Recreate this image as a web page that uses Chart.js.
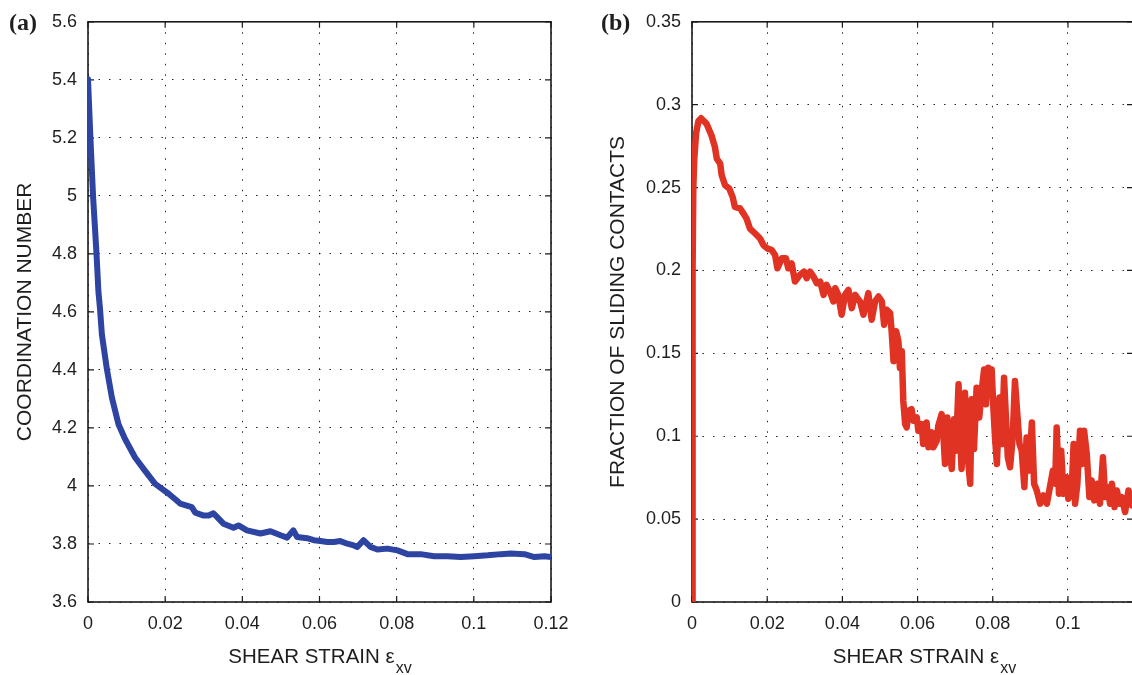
<!DOCTYPE html>
<html><head><meta charset="utf-8">
<script src="https://cdn.jsdelivr.net/npm/chart.js@4.4.1/dist/chart.umd.min.js"></script>
<style>
html,body{margin:0;padding:0;background:#fff;overflow:hidden;width:1132px;height:675px;}
#ca{position:absolute;left:0;top:0;}
#cb{position:absolute;left:580px;top:0;}
</style></head><body>
<canvas id="ca" width="600" height="675"></canvas>
<canvas id="cb" width="560" height="675"></canvas>
<script>
// ---- Panel (a): coordination number ----
const strainA = [0,0.0006,0.0013,0.0022,0.0027,0.0031,0.0036,0.0049,0.0062,0.0079,0.0096,0.0122,0.0144,0.0174,0.0209,0.023,0.0239,0.0269,0.0278,0.03,0.0313,0.0325,0.0338,0.0351,0.0377,0.039,0.0412,0.0447,0.0473,0.0499,0.0516,0.0532,0.0542,0.0568,0.0585,0.0603,0.062,0.0637,0.0654,0.0672,0.0689,0.0698,0.0714,0.0732,0.075,0.0776,0.0802,0.0828,0.0862,0.0897,0.0932,0.0966,0.1001,0.1036,0.107,0.1096,0.1131,0.1157,0.1183,0.12];
const coordA = [5.402,5.208,5.002,4.802,4.670,4.613,4.522,4.402,4.304,4.213,4.162,4.098,4.059,4.007,3.973,3.950,3.939,3.927,3.908,3.898,3.898,3.906,3.888,3.870,3.856,3.864,3.847,3.836,3.844,3.830,3.822,3.847,3.824,3.820,3.813,3.810,3.807,3.807,3.810,3.801,3.795,3.790,3.813,3.790,3.781,3.784,3.778,3.765,3.765,3.758,3.758,3.755,3.758,3.761,3.765,3.767,3.765,3.755,3.758,3.755];
const xTicksA = [0,0.02,0.04,0.06,0.08,0.1,0.12];
const xLabelsA = ['0','0.02','0.04','0.06','0.08','0.1','0.12'];
const yTicksA = [3.6,3.8,4,4.2,4.4,4.6,4.8,5,5.2,5.4,5.6];
const yLabelsA = ['3.6','3.8','4','4.2','4.4','4.6','4.8','5','5.2','5.4','5.6'];

// ---- Panel (b): fraction of sliding contacts ----
const strainB = [0,0.0001,0.0002,0.00035,0.0006,0.0011,0.0017,0.0024,
0.0039,0.0052,0.0061,0.0066,0.0075,0.0079,0.0088,0.0099,0.0108,0.0114,0.0128,0.0137,0.0145,0.0154,0.0168,0.0181,0.0190,0.0200,0.0212,0.0221,0.0227,0.0239,0.0250,0.0256,0.0265,0.0274,0.0287,0.0298,0.0305,0.0314,0.0323,0.0332,0.0341,0.0350,0.0358,0.0367,0.0376,0.0381,0.0389,0.0398,0.0407,0.0416,0.0425,0.0434,0.0443,
0.0447,0.0456,0.0469,0.0478,0.0487,0.0496,0.0505,0.0511,0.0518,0.0527,0.0531,0.0536,0.0543,0.0549,0.0553,0.0558,0.0562,0.0567,0.0571,0.0576,0.0584,0.0589,0.0598,0.0602,0.0611,0.0615,0.0624,0.0629,0.0638,0.0642,0.0651,0.0655,0.0664,0.0669,0.0673,0.0679,0.0686,0.0691,0.0697,0.0702,0.0709,0.0713,0.0717,0.0726,0.0732,0.0740,0.0744,0.0750,0.0757,0.0764,0.0771,0.0777,0.0782,0.0788,0.0793,0.0797,0.0802,0.0806,0.0811,0.0818,0.0824,0.0830,0.0835,0.0840,0.0846,0.0853,0.0859,0.0866,0.0871,0.0877,0.0884,0.0890,0.0897,0.0904,0.0910,0.0917,0.0926,0.0935,0.0944,0.0952,0.0960,0.0966,0.0970,0.0976,0.0982,0.0988,0.0997,0.1001,0.1010,0.1015,0.1019,0.1025,0.1032,0.1038,0.1043,0.1050,0.1057,0.1063,0.1070,0.1078,0.1085,0.1093,0.1099,0.1105,0.1112,0.1117,0.1124,0.1130,0.1137,0.1143,0.1152,0.1161,0.1170];
const slidingB = [0,0.1,0.2,0.25,0.267,0.283,0.290,0.2918,
0.2884,0.2814,0.2744,0.2674,0.2644,0.2574,0.2514,0.2494,0.2444,0.2384,0.2374,0.2343,0.2313,0.2253,0.2223,0.2193,0.2153,0.2133,0.2123,0.2093,0.2013,0.2073,0.2073,0.2013,0.2043,0.1933,0.1973,0.1993,0.1953,0.1993,0.1963,0.1923,0.1933,0.1853,0.1913,0.1873,0.1813,0.1893,0.1853,0.1733,0.1853,0.1883,0.1773,0.1853,0.1823,
0.1813,0.1733,0.1863,0.1703,0.1813,0.1843,0.1813,0.1673,0.1763,0.1743,0.1633,0.1453,0.1633,0.1573,0.1413,0.1513,0.1213,0.1073,0.1053,0.1153,0.1163,0.1093,0.1113,0.1033,0.1073,0.0953,0.1083,0.0933,0.1023,0.0933,0.0973,0.1063,0.1133,0.0993,0.0833,0.1113,0.0913,0.0803,0.1103,0.0913,0.1313,0.0993,0.0803,0.1263,0.0913,0.0713,0.1223,0.0923,0.1293,0.1113,0.1283,0.1403,0.1193,0.1413,0.1313,0.1403,0.1153,0.0993,0.0833,0.1233,0.0953,0.1353,0.1113,0.0873,0.0813,0.0993,0.1333,0.1113,0.0953,0.0913,0.0693,0.0993,0.0793,0.1083,0.0713,0.0673,0.0593,0.0643,0.0593,0.0693,0.0793,0.0713,0.1053,0.0653,0.0913,0.0653,0.0753,0.0623,0.0673,0.0953,0.0593,0.0713,0.1033,0.0833,0.1033,0.0893,0.0633,0.0733,0.0613,0.0713,0.0593,0.0873,0.0633,0.0693,0.0593,0.0713,0.0573,0.0673,0.0593,0.0633,0.0543,0.0673,0.0583];
const xTicksB = [0,0.02,0.04,0.06,0.08,0.1];
const xLabelsB = ['0','0.02','0.04','0.06','0.08','0.1'];
const yTicksB = [0,0.05,0.1,0.15,0.2,0.25,0.3,0.35];
const yLabelsB = ['0','0.05','0.1','0.15','0.2','0.25','0.3','0.35'];

const SANS = '"Liberation Sans", Arial, Helvetica, sans-serif';
const TXT = '#1e1e1e';

const framePlugin = {
  id: 'frame',
  beforeDatasetsDraw(chart) {
    const {ctx, chartArea: a, scales: {x, y}} = chart;
    ctx.save();
    ctx.strokeStyle = '#1a1a1a';
    ctx.lineWidth = 1.6;
    ctx.strokeRect(a.left, a.top, a.right - a.left, a.bottom - a.top);
    ctx.lineWidth = 1.2;
    ctx.beginPath();
    x.ticks.forEach(t => {
      const p = x.getPixelForValue(t.value);
      ctx.moveTo(p, a.bottom); ctx.lineTo(p, a.bottom - 6);
      ctx.moveTo(p, a.top); ctx.lineTo(p, a.top + 6);
    });
    y.ticks.forEach(t => {
      const p = y.getPixelForValue(t.value);
      ctx.moveTo(a.left, p); ctx.lineTo(a.left + 6, p);
      ctx.moveTo(a.right, p); ctx.lineTo(a.right - 6, p);
    });
    ctx.stroke();
    ctx.restore();
  },
  afterDraw(chart, args, opts) {
    const {ctx, scales: {x}} = chart;
    ctx.save();
    ctx.fillStyle = TXT;
    ctx.textAlign = 'left';
    ctx.textBaseline = 'alphabetic';
    ctx.font = 'bold 24px "Liberation Serif", "Times New Roman", serif';
    ctx.fillText(opts.panel, opts.panelX, 30);
    ctx.font = '20.5px ' + SANS;
    const main = 'SHEAR STRAIN \u03b5';
    const wm = ctx.measureText(main).width;
    ctx.font = '16px ' + SANS;
    const ws = ctx.measureText('xv').width;
    const cx = x.getPixelForValue(opts.titleCenter);
    const sx = cx - (wm + ws) / 2;
    ctx.font = '20.5px ' + SANS;
    ctx.fillText(main, sx, 663);
    ctx.font = '16px ' + SANS;
    ctx.fillText('xv', sx + wm + 1, 673);
    ctx.restore();
  }
};

function makeChart(id, xs, ys, color, lw, xT, xL, yT, yL, xmin, xmax, ymin, ymax, yTitle, yTitlePad, yWidth, padRight, panel, panelX, titleCenter) {
  return new Chart(document.getElementById(id), {
    type: 'scatter',
    data: { datasets: [{
      data: xs.map((v, i) => ({x: v, y: ys[i]})),
      showLine: true, borderColor: color, backgroundColor: color,
      borderWidth: lw, pointRadius: 0, tension: 0, borderJoinStyle: 'round', borderCapStyle: 'round'
    }]},
    options: {
      responsive: false, animation: false, devicePixelRatio: 1,
      layout: { padding: { top: 19, right: padRight, left: 0, bottom: 0 } },
      plugins: { legend: { display: false }, tooltip: { enabled: false },
        frame: { panel: panel, panelX: panelX, titleCenter: titleCenter } },
      scales: {
        x: {
          type: 'linear', min: xmin, max: xmax,
          afterBuildTicks: s => { s.ticks = xT.map(v => ({value: v})); },
          afterFit: s => { s.height = 73; },
          ticks: { callback: (v, i) => xL[i], font: { size: 18, family: SANS }, color: TXT, padding: 11, maxRotation: 0 },
          grid: { color: 'rgba(0,0,0,0.85)', lineWidth: 1, drawTicks: false },
          border: { display: false, dash: [1.5, 9] }
        },
        y: {
          type: 'linear', min: ymin, max: ymax,
          afterBuildTicks: s => { s.ticks = yT.map(v => ({value: v})); },
          afterFit: s => { s.width = yWidth; },
          ticks: { callback: (v, i) => yL[i], font: { size: 18, family: SANS }, color: TXT, padding: 11 },
          grid: { color: 'rgba(0,0,0,0.85)', lineWidth: 1, drawTicks: false },
          border: { display: false, dash: [1.5, 9] },
          title: { display: true, text: yTitle, color: TXT, font: { size: 21, family: SANS }, padding: { top: yTitlePad, bottom: 0 } }
        }
      }
    },
    plugins: [framePlugin]
  });
}

makeChart('ca', strainA, coordA, '#2d44a2', 6, xTicksA, xLabelsA, yTicksA, yLabelsA, 0, 0.12, 3.6, 5.6,
  'COORDINATION NUMBER', 13, 88, 49, '(a)', 9, 0.06);
makeChart('cb', strainB, slidingB, '#e03324', 6.5, xTicksB, xLabelsB, yTicksB, yLabelsB, 0, 0.1173, 0, 0.35,
  'FRACTION OF SLIDING CONTACTS', 26, 112, 7, '(b)', 21, 0.0617);
</script>
</body></html>
